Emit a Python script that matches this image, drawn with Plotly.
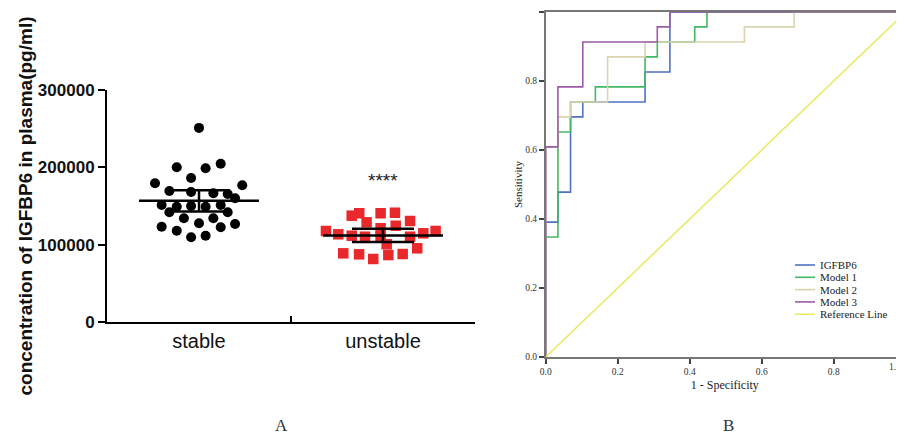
import plotly.graph_objects as go

# ---------------- Panel A data ----------------
categories = ["stable", "unstable"]

stable_values = [251000, 200000, 198800, 204700, 186200, 179400, 176800, 169400,
                 168100, 166400, 165500, 160000, 151300, 149100, 150000, 141900,
                 134100, 127600, 123200, 118000, 122500, 126700, 109500, 111600,
                 141900, 134100, 151300, 149100]
stable_jitter = [0.000, -0.121, 0.036, 0.118, -0.043, -0.239, 0.235, -0.161,
                 -0.043, 0.078, 0.156, 0.196, -0.203, -0.121, -0.043, -0.161,
                 -0.082, 0.000, -0.203, -0.121, 0.118, 0.196, -0.043, 0.036,
                 0.156, 0.078, 0.118, 0.036]

unstable_values = [137500, 140600, 140600, 141300, 128900, 130600, 117700, 113400,
                   111600, 121200, 124500, 114700, 117700, 110300, 110300, 100500,
                   88800, 87500, 81500, 86600, 87900, 95300, 110300]
unstable_jitter = [-0.170, -0.129, -0.013, 0.065, -0.089, 0.147, -0.310, -0.243,
                   -0.170, -0.013, 0.069, 0.219, 0.286, -0.098, 0.147, 0.020,
                   -0.216, -0.130, -0.053, 0.029, 0.107, 0.186, -0.013]

group_means = [156700, 112000]
group_errors = [13800, 8700]
left_tick_values = [0, 100000, 200000, 300000]
significance_label = "****"

# ---------------- Panel B data (ROC) ----------------
roc_names = ["IGFBP6", "Model 1", "Model 2", "Model 3", "Reference Line"]
fpr_igfbp6 = [0, 0.034, 0.069, 0.103, 0.276, 0.345, 1.0]
tpr_igfbp6 = [0, 0.391, 0.478, 0.696, 0.739, 0.826, 1.0]
fpr_model1 = [0, 0.034, 0.069, 0.138, 0.276, 0.310, 0.414, 0.448, 1.0]
tpr_model1 = [0, 0.348, 0.652, 0.739, 0.783, 0.870, 0.913, 0.957, 1.0]
fpr_model2 = [0, 0.034, 0.069, 0.172, 0.276, 0.552, 0.690, 1.0]
tpr_model2 = [0, 0.609, 0.696, 0.739, 0.870, 0.913, 0.957, 1.0]
fpr_model3 = [0, 0.034, 0.103, 0.310, 0.345, 1.0]
tpr_model3 = [0, 0.609, 0.783, 0.913, 0.957, 1.0]
fpr_reference = [0, 1]
tpr_reference = [0, 1]
roc_tick_values = [0, 0.2, 0.4, 0.6, 0.8, 1.0]

roc_colors = ["#5070c2", "#43b864", "#d9d3b0", "#9b5ba6", "#e9e96c"]

# The page body has an 8px margin, so the figure is sized to the visible area
OFF = 8
W, H = 904 - OFF, 438 - OFF
SANS = "Liberation Sans, Arial, sans-serif"
SERIF = "Liberation Serif, Times New Roman, serif"


def sx(px):
    return (px - OFF) / W


def sy(py):
    return 1 - (py - OFF) / H


fig = go.Figure()

# ---- Panel A scatter ----
fig.add_trace(go.Scatter(
    x=[0 + j for j in stable_jitter], y=stable_values, mode="markers",
    marker=dict(symbol="circle", size=10, color="#000000"),
    showlegend=False, xaxis="x", yaxis="y"))
fig.add_trace(go.Scatter(
    x=[1 + j for j in unstable_jitter], y=unstable_values, mode="markers",
    marker=dict(symbol="square", size=10.5, color="#e8282a"),
    showlegend=False, xaxis="x", yaxis="y"))

# mean lines
half = 0.326
for i, m in enumerate(group_means):
    fig.add_trace(go.Scatter(
        x=[i - half, i + half], y=[m, m], mode="lines",
        line=dict(color="#000000", width=2.5),
        showlegend=False, hoverinfo="skip", xaxis="x", yaxis="y"))
# error bars
fig.add_trace(go.Scatter(
    x=[0, 1], y=group_means, mode="markers",
    marker=dict(size=0.1, color="rgba(0,0,0,0)"),
    error_y=dict(type="data", array=group_errors, visible=True,
                 color="#000000", thickness=2.5, width=31),
    showlegend=False, hoverinfo="skip", xaxis="x", yaxis="y"))
# helper trace for middle x tick
fig.add_trace(go.Scatter(x=[None], y=[None], xaxis="x3", yaxis="y",
                         showlegend=False, hoverinfo="skip"))

# ---- Panel B ROC ----
roc_x = [fpr_igfbp6, fpr_model1, fpr_model2, fpr_model3, fpr_reference]
roc_y = [tpr_igfbp6, tpr_model1, tpr_model2, tpr_model3, tpr_reference]
for k in range(5):
    fig.add_trace(go.Scatter(
        x=roc_x[k], y=roc_y[k], mode="lines", name=roc_names[k],
        line=dict(color=roc_colors[k], width=1.6,
                  shape="linear" if k == 4 else "vh"),
        showlegend=False, xaxis="x2", yaxis="y2"))

ax_dom_A = [sx(107), sx(475)]
ay_dom_A = [sy(322), sy(90)]
bx0 = 545.7
bx_dom = [sx(bx0), 1.0]
bx_max = (904 - bx0) / 360.0
by_dom = [sy(357), sy(12)]

# legend (drawn compactly as in the reference)
shapes = []
annotations = []
leg_top = 265.0
leg_step = 12.3
for k, name in enumerate(roc_names):
    yy = sy(leg_top + k * leg_step)
    shapes.append(dict(type="line", xref="paper", yref="paper",
                       x0=sx(795), x1=sx(815), y0=yy, y1=yy,
                       line=dict(color=roc_colors[k], width=1.6)))
    annotations.append(dict(text=name, x=sx(818), y=yy, xref="paper", yref="paper",
                            xanchor="left", yanchor="middle", showarrow=False,
                            font=dict(family=SERIF, size=11, color="#222222")))

annotations += [
    dict(text=significance_label, x=1, y=183600, xref="x", yref="y",
         xanchor="center", yanchor="middle",
         showarrow=False, font=dict(family=SANS, size=19, color="#222222")),
    dict(text="A", x=sx(281), y=sy(437), xref="paper", yref="paper",
         xanchor="center", yanchor="bottom",
         showarrow=False, font=dict(family=SERIF, size=17, color="#333333")),
    dict(text="B", x=sx(728), y=sy(437), xref="paper", yref="paper",
         xanchor="center", yanchor="bottom",
         showarrow=False, font=dict(family=SERIF, size=17, color="#333333")),
    dict(text="1.0", x=sx(903), y=sy(367), xref="paper", yref="paper",
         xanchor="right", yanchor="middle",
         showarrow=False, font=dict(family=SERIF, size=9.5, color="#333333")),
]

fig.update_layout(
    width=W, height=H,
    margin=dict(l=0, r=0, t=0, b=0, autoexpand=False),
    paper_bgcolor="white", plot_bgcolor="white",
    showlegend=False,
    xaxis=dict(domain=ax_dom_A, range=[-0.5, 1.5], tickvals=[0, 1],
               ticktext=categories, ticks="", showgrid=False, zeroline=False,
               showline=True, linecolor="#000000", linewidth=2,
               tickfont=dict(family=SANS, size=20, color="#111111"),
               automargin=False, anchor="y"),
    xaxis3=dict(domain=ax_dom_A, range=[-0.5, 1.5], overlaying="x", anchor="y",
                tickvals=[0.5], ticks="inside", ticklen=6, tickwidth=2,
                tickcolor="#000000", showticklabels=False, showgrid=False,
                zeroline=False, showline=False, automargin=False),
    yaxis=dict(domain=ay_dom_A, range=[0, 300000], tickvals=left_tick_values,
               ticktext=[str(v) for v in left_tick_values],
               ticks="outside", ticklen=7, tickwidth=2, tickcolor="#000000",
               showgrid=False, zeroline=False, showline=True,
               linecolor="#000000", linewidth=2,
               tickfont=dict(family=SANS, size=17, color="#111111", weight="bold"),
               title=dict(text="concentration of IGFBP6 in plasma(pg/ml)",
                          font=dict(family=SANS, size=19, color="#111111", weight="bold"),
                          standoff=0),
               automargin=False, anchor="x"),
    xaxis2=dict(domain=bx_dom, range=[0, bx_max], tickvals=roc_tick_values,
                tickformat=".1f", ticks="outside", ticklen=5, tickwidth=1.5,
                tickcolor="#444444", showgrid=False, zeroline=False,
                showline=True, mirror=True, linecolor="#777777", linewidth=1.6,
                tickfont=dict(family=SERIF, size=9.5, color="#333333"),
                title=dict(text="1 - Specificity",
                           font=dict(family=SERIF, size=12, color="#222222"),
                           standoff=4),
                automargin=False, anchor="y2"),
    yaxis2=dict(domain=by_dom, range=[0, 1], tickvals=roc_tick_values,
                tickformat=".1f", ticks="outside", ticklen=5, tickwidth=1.5,
                tickcolor="#444444", showgrid=False, zeroline=False,
                showline=True, linecolor="#777777", linewidth=1.6,
                tickfont=dict(family=SERIF, size=9.5, color="#333333"),
                title=dict(text="Sensitivity",
                           font=dict(family=SERIF, size=11, color="#222222"),
                           standoff=0),
                automargin=False, anchor="x2"),
    shapes=shapes,
    annotations=annotations,
)

fig.write_html("out.html")
